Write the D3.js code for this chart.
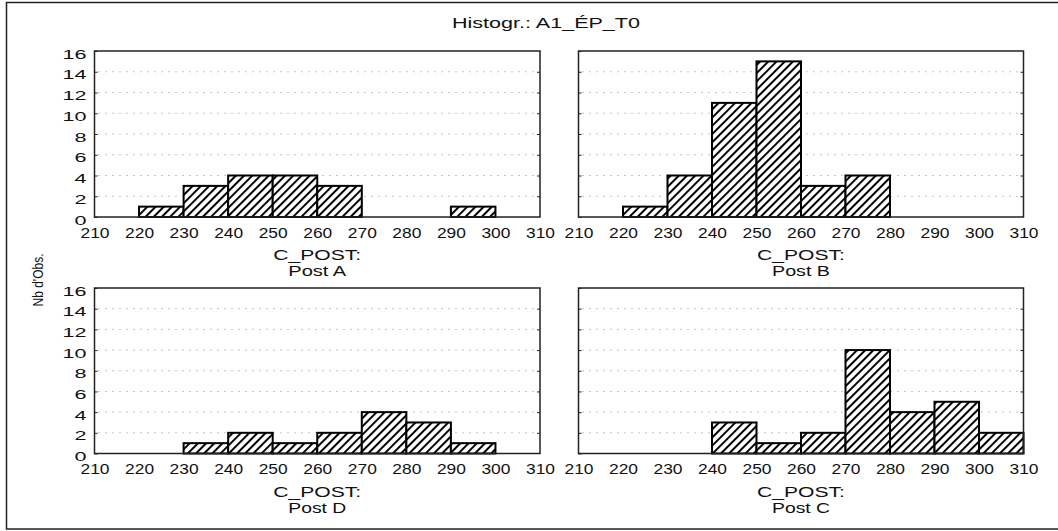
<!DOCTYPE html>
<html>
<head>
<meta charset="utf-8">
<script src="https://cdn.jsdelivr.net/npm/d3@7"></script>
<style>
  body { margin: 0; background: #fff; }
  text { font-family: "Liberation Sans", Arial, sans-serif; fill: #111; }
</style>
</head>
<body>
<svg id="chart" width="1058" height="531"></svg>
<script>
// bins of width 10, starting at these values
const binStarts = [210, 220, 230, 240, 250, 260, 270, 280, 290, 300];
const xTicks = [210, 220, 230, 240, 250, 260, 270, 280, 290, 300, 310];
const yTicks = [0, 2, 4, 6, 8, 10, 12, 14, 16];

const postA = [0, 1, 3, 4, 4, 3, 0, 0, 1, 0];
const postB = [0, 1, 4, 11, 15, 3, 4, 0, 0, 0];
const postD = [0, 0, 1, 2, 1, 2, 4, 3, 1, 0];
const postC = [0, 0, 0, 3, 1, 2, 10, 4, 5, 2];

const panelNames = ["Post A", "Post B", "Post D", "Post C"];
const panelCounts = [postA, postB, postD, postC];

const svg = d3.select("#chart");

// outer frame
svg.append("rect")
  .attr("x", 6.5).attr("y", 2.5)
  .attr("width", 1060).attr("height", 526.5)
  .attr("fill", "none").attr("stroke", "#222").attr("stroke-width", 1.5);

// hatch
svg.append("defs").append("pattern")
  .attr("id", "hatch")
  .attr("patternUnits", "userSpaceOnUse")
  .attr("width", 5.8).attr("height", 5.8)
  .attr("patternTransform", "rotate(45)")
  .call(p => p.append("rect").attr("width", 5.8).attr("height", 5.8).attr("fill", "#fff"))
  .append("line")
  .attr("x1", 1).attr("y1", -1).attr("x2", 1).attr("y2", 7)
  .attr("stroke", "#000").attr("stroke-width", 2);

svg.append("text")
  .attr("x", 452).attr("y", 28)
  .attr("font-size", 14)
  .attr("textLength", 188).attr("lengthAdjust", "spacingAndGlyphs")
  .text("Histogr.: A1_ÉP_T0");

// y title
svg.append("g")
  .attr("transform", "translate(43,280)")
  .append("text")
  .attr("transform", "rotate(-90) scale(0.8,1)")
  .attr("text-anchor", "middle")
  .style("font-size", "15px")
  .text("Nb d'Obs.");

const cols = [[94.5, 540], [578.5, 1023.5]];
const rows = [[51, 217], [288, 453.5]];

panelNames.forEach((name, i) => {
  const [xl, xr] = cols[i % 2];
  const [yt, yb] = rows[Math.floor(i / 2)];
  const counts = panelCounts[i];

  const x = d3.scaleLinear().domain([210, 310]).range([xl, xr]);
  const y = d3.scaleLinear().domain([0, 16]).range([yb, yt]);

  const g = svg.append("g");

  // dotted grid
  g.selectAll(".grid")
    .data(yTicks.filter(d => d > 0 && d < 16))
    .enter()
    .append("line")
    .attr("x1", xl + 4).attr("x2", xr - 4)
    .attr("y1", d => y(d)).attr("y2", d => y(d))
    .attr("stroke", "#888").attr("stroke-width", 1)
    .attr("stroke-dasharray", "1,6");

  // bars
  const bars = binStarts.map((b, j) => ({ start: b, count: counts[j] })).filter(d => d.count > 0);
  g.selectAll(".bar")
    .data(bars)
    .enter()
    .append("rect")
    .attr("x", d => x(d.start))
    .attr("y", d => y(d.count))
    .attr("width", d => x(d.start + 10) - x(d.start))
    .attr("height", d => y(0) - y(d.count))
    .attr("fill", "url(#hatch)")
    .attr("stroke", "#000").attr("stroke-width", 2);

  // frame
  g.append("rect")
    .attr("x", xl).attr("y", yt)
    .attr("width", xr - xl).attr("height", yb - yt)
    .attr("fill", "none").attr("stroke", "#222").attr("stroke-width", 1.5);

  // left / right inner ticks
  const yAxisL = g.append("g").attr("transform", `translate(${xl},0)`)
    .call(d3.axisLeft(y).tickValues(yTicks).tickSize(-3).tickFormat(i % 2 === 0 ? d3.format("d") : () => ""));
  yAxisL.select(".domain").remove();
  yAxisL.selectAll("line").attr("stroke", "#222");
  yAxisL.selectAll("text")
    .attr("x", -8).attr("dy", null).attr("y", 7)
    .attr("font-size", 13)
    .attr("fill", "#111")
    .style("font-family", "'Liberation Sans', Arial, sans-serif")
    .each(function (d) {
      const n = String(d).length;
      d3.select(this).attr("textLength", n * 12).attr("lengthAdjust", "spacingAndGlyphs");
    });

  const yAxisR = g.append("g").attr("transform", `translate(${xr},0)`)
    .call(d3.axisRight(y).tickValues(yTicks.filter(d => d > 0 && d < 16)).tickSize(-3).tickFormat(() => ""));
  yAxisR.select(".domain").remove();
  yAxisR.selectAll("line").attr("stroke", "#222");

  // x labels
  const xAxis = g.append("g").attr("transform", `translate(0,${yb})`)
    .call(d3.axisBottom(x).tickValues(xTicks).tickSize(0));
  xAxis.select(".domain").remove();
  xAxis.selectAll("text")
    .attr("dy", null).attr("y", 20.5)
    .attr("font-size", 15)
    .attr("fill", "#111")
    .style("font-family", "'Liberation Sans', Arial, sans-serif")
    .attr("textLength", 29).attr("lengthAdjust", "spacingAndGlyphs");

  const cx = (xl + xr) / 2;
  g.append("text")
    .attr("x", cx).attr("y", yb + 43)
    .attr("text-anchor", "middle")
    .attr("font-size", 14)
    .attr("textLength", 88).attr("lengthAdjust", "spacingAndGlyphs")
    .text("C_POST:");
  g.append("text")
    .attr("x", cx).attr("y", yb + 59)
    .attr("text-anchor", "middle")
    .attr("font-size", 14)
    .attr("textLength", 58).attr("lengthAdjust", "spacingAndGlyphs")
    .text(name);
});
</script>
</body>
</html>
